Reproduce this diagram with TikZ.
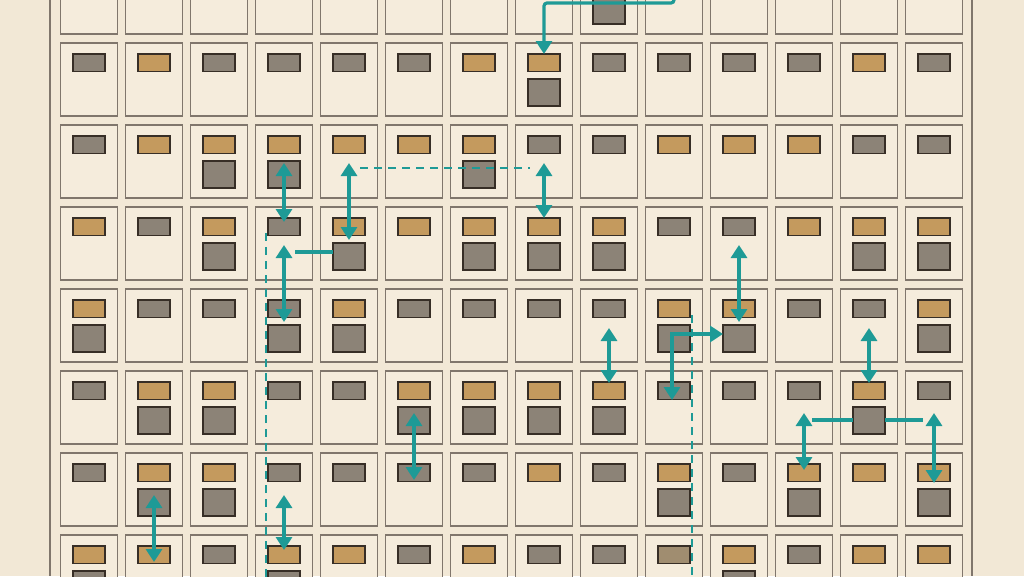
\documentclass[tikz,border=0pt]{standalone}
\usetikzlibrary{arrows.meta,calc}

\definecolor{paper}{RGB}{242,232,214}
\definecolor{cellfill}{RGB}{245,236,220}
\definecolor{cellline}{RGB}{128,118,108}
\definecolor{tagT}{RGB}{196,154,94}
\definecolor{tagG}{RGB}{140,131,119}
\definecolor{tagM}{RGB}{160,141,112}
\definecolor{tagline}{RGB}{55,46,38}
\definecolor{flowteal}{RGB}{30,154,150}

\tikzset{
  cell/.style={draw=cellline, fill=cellfill, line width=1.9pt, minimum width=57pt, minimum height=73pt, inner sep=0pt, outer sep=0pt},
  tag/.style={draw=tagline, line width=1.8pt, minimum width=32pt, minimum height=17.5pt, inner sep=0pt, outer sep=0pt},
  box/.style={draw=tagline, fill=tagG, line width=1.8pt, minimum width=32pt, minimum height=27pt, inner sep=0pt, outer sep=0pt},
  flow/.style={draw=flowteal, line width=3.2pt},
  trace/.style={draw=flowteal, line width=1.8pt, dash pattern=on 8pt off 6pt},
  >={Triangle[width=16pt,length=13pt]}
}

\begin{document}
\begin{tikzpicture}[x=1pt,y=1pt,yscale=-1]
\useasboundingbox (0,0) rectangle (1024,576);
\fill[paper] (0,0) rectangle (1024,576);

%Straight Lines: frame
\draw[cellline, line width=1.6pt] (50,0) -- (50,576);
\draw[cellline, line width=1.6pt] (972,0) -- (972,576);

% Grid of cells: tag colour / square below
\foreach \r/\codes in {
  0/{G/0,G/0,G/0,G/0,G/0,G/0,G/0,G/0,G/1,G/0,G/0,G/0,G/0,G/0},
  1/{G/0,T/0,G/0,G/0,G/0,G/0,T/0,T/1,G/0,G/0,G/0,G/0,T/0,G/0},
  2/{G/0,T/0,T/1,T/1,T/0,T/0,T/1,G/0,G/0,T/0,T/0,T/0,G/0,G/0},
  3/{T/0,G/0,T/1,G/0,T/1,T/0,T/1,T/1,T/1,G/0,G/0,T/0,T/1,T/1},
  4/{T/1,G/0,G/0,G/1,T/1,G/0,G/0,G/0,G/0,T/1,T/1,G/0,G/0,T/1},
  5/{G/0,T/1,T/1,G/0,G/0,T/1,T/1,T/1,T/1,G/0,G/0,G/0,T/1,G/0},
  6/{G/0,T/1,T/1,G/0,G/0,G/0,G/0,T/0,G/0,T/1,G/0,T/1,T/0,T/1},
  7/{T/1,T/0,G/0,T/1,T/0,G/0,T/0,G/0,G/0,M/0,T/1,G/0,T/0,T/0}}{
  \foreach \t/\s [count=\c] in \codes {
    \pgfmathsetmacro{\x}{89+65*(\c-1)}
    \pgfmathsetmacro{\cy}{-2.5+82*\r}
    \pgfmathsetmacro{\ty}{-19.25+82*\r}
    \pgfmathsetmacro{\sy}{10.5+82*\r}
    \node[cell] (cell-\r-\c) at (\x,\cy) {};
    \node[tag, fill=tag\t] (tag-\r-\c) at (\x,\ty) {};
    \ifnum\s=1
      \node[box] (box-\r-\c) at (\x,\sy) {};
    \fi
  }
}

% Feed from above
\coordinate (feed) at (674,-2);
\draw[flow,->,rounded corners=3pt] (feed) -- ++(0,5) -| (tag-1-8.north);

% Dashed traces
\draw[trace] ($(tag-2-5.south)+(11,14.5)$) -- ($(tag-2-8.south)+(-14,14.5)$);
\draw[trace] ($(tag-3-4.south west)+(-2,-2.5)$) -- ($(tag-7-4.south west)+(-2,20)$);
\draw[trace] ($(tag-4-10.south east)+(2,-2.5)$) -- ($(tag-7-10.south east)+(2,20)$);

% Two-way links
\draw[flow,<->] ($(box-2-4.north)+(0,2)$) -- ($(tag-3-4.north)+(0,4)$);
\draw[flow,<->] ($(tag-2-5.south)+(0,9.5)$) -- ($(box-3-5.north)+(0,-3)$);
\draw[flow,<->] ($(tag-2-8.south)+(0,9.5)$) -- (tag-3-8.north);
\draw[flow] ($(box-3-5.west)+(0,-4.5)$) -- ($(box-3-5.west)+(-38,-4.5)$);
\draw[flow,<->] ($(tag-3-4.south)+(0,9.5)$) -- ($(box-4-4.north)+(0,-3)$);
\draw[flow,<->] ($(tag-4-9.south)+(0,10.5)$) -- ($(tag-5-9.north)+(0,1)$);
\draw[flow,<->] ($(tag-5-10.south)+(-2,0.5)$) |- ($(box-4-11.west)+(0,-4.5)$);
\draw[flow,<->] ($(tag-3-11.south)+(0,9.5)$) -- ($(box-4-11.north)+(0,-3)$);
\draw[flow,<->] ($(tag-4-13.south)+(0,10.5)$) -- ($(tag-5-13.north)+(0,1)$);
\draw[flow] ($(box-5-13.west)+(0,-0.5)$) -- ($(box-5-13.west)+(-41,-0.5)$);
\draw[flow] ($(box-5-13.east)+(0,-0.5)$) -- ($(box-5-13.east)+(38,-0.5)$);
\draw[flow,<->] ($(tag-5-12.south)+(0,13.5)$) -- ($(tag-6-12.north)+(0,6)$);
\draw[flow,<->] ($(tag-5-14.south)+(0,13.5)$) -- ($(tag-6-14.south)+(0,1.5)$);
\draw[flow,<->] ($(box-5-6.north)+(0,6)$) -- ($(tag-6-6.south)+(0,-1.5)$);
\draw[flow,<->] ($(box-6-2.north)+(0,6)$) -- ($(tag-7-2.south)+(0,-1.5)$);
\draw[flow,<->] ($(tag-6-4.south)+(0,13.5)$) -- ($(tag-7-4.north)+(0,4)$);

\end{tikzpicture}
\end{document}
